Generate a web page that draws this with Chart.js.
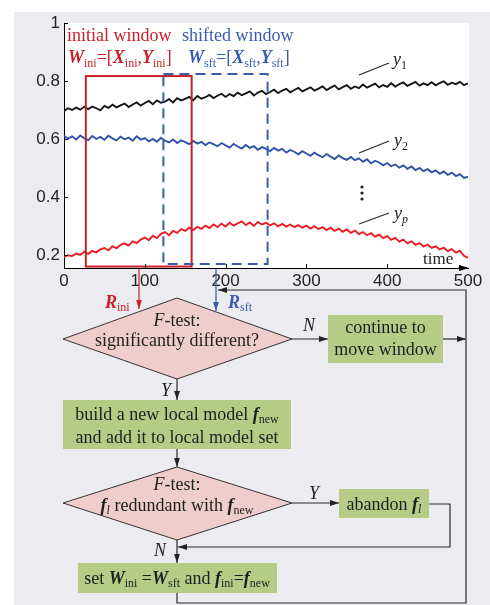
<!DOCTYPE html>
<html>
<head>
<meta charset="utf-8">
<script src="https://cdn.jsdelivr.net/npm/chart.js@4/dist/chart.umd.min.js"></script>
<style>
  html, body { margin:0; padding:0; background:#fff; }
  #wrap { position:relative; width:490px; height:605px; overflow:hidden; }
  #bg { position:absolute; left:14px; top:12px; right:0; bottom:0; background:#ecebf0; }
  #chart { position:absolute; left:0; top:0; }
  #fc { position:absolute; left:0; top:0; font-family:'Liberation Serif','DejaVu Serif',serif; font-size:18px; fill:#1e1e1e; }
  .bi { font-weight:bold; font-style:italic; }
  .it { font-style:italic; }
  .ln { stroke:#2a2a2a; stroke-width:1.2; fill:none; }
</style>
</head>
<body>
<div id="wrap">
  <div id="bg"></div>
  <canvas id="chart" width="490" height="300"></canvas>
  <svg id="fc" width="490" height="605" viewBox="0 0 490 605">
    <defs>
      <marker id="ah" viewBox="0 0 10 10" refX="10" refY="5" markerWidth="9" markerHeight="9" markerUnits="userSpaceOnUse" orient="auto"><path d="M0,1.8 L10,5 L0,8.2z" fill="#222"/></marker>
      <marker id="ahr" viewBox="0 0 10 10" refX="10" refY="5" markerWidth="9" markerHeight="9" markerUnits="userSpaceOnUse" orient="auto"><path d="M0,1.8 L10,5 L0,8.2z" fill="#c8202a"/></marker>
      <marker id="ahb" viewBox="0 0 10 10" refX="10" refY="5" markerWidth="9" markerHeight="9" markerUnits="userSpaceOnUse" orient="auto"><path d="M0,1.8 L10,5 L0,8.2z" fill="#3a5bb0"/></marker>
    </defs>

    <!-- header over the plot -->
    <text x="67" y="41" fill="#c8202a">initial window</text>
    <text x="182" y="41" fill="#3a5bb0">shifted window</text>
    <text x="68" y="63" fill="#c8202a"><tspan class="bi">W</tspan><tspan font-size="12" dy="4">ini</tspan><tspan dy="-4">=[</tspan><tspan class="bi">X</tspan><tspan font-size="12" dy="4">ini</tspan><tspan dy="-4">,</tspan><tspan class="bi">Y</tspan><tspan font-size="12" dy="4">ini</tspan><tspan dy="-4">]</tspan></text>
    <text x="188" y="63" fill="#3a5bb0"><tspan class="bi">W</tspan><tspan font-size="12" dy="4">sft</tspan><tspan dy="-4">=[</tspan><tspan class="bi">X</tspan><tspan font-size="12" dy="4">sft</tspan><tspan dy="-4">,</tspan><tspan class="bi">Y</tspan><tspan font-size="12" dy="4">sft</tspan><tspan dy="-4">]</tspan></text>

    <!-- series labels -->
    <line class="ln" x1="359" y1="75" x2="389" y2="63" stroke-width="1"/>
    <text x="393" y="65"><tspan class="it">y</tspan><tspan font-size="12" dy="4">1</tspan></text>
    <line class="ln" x1="359" y1="153" x2="389" y2="141" stroke-width="1"/>
    <text x="394" y="146"><tspan class="it">y</tspan><tspan font-size="12" dy="4">2</tspan></text>
    <line class="ln" x1="359" y1="224" x2="389" y2="213" stroke-width="1"/>
    <text x="394" y="219"><tspan class="it">y</tspan><tspan font-size="12" dy="4" class="it">p</tspan></text>
    <circle cx="362" cy="187" r="1.6" fill="#222"/>
    <circle cx="362" cy="193" r="1.6" fill="#222"/>
    <circle cx="362" cy="199" r="1.6" fill="#222"/>
    <text x="423" y="264" font-size="17">time</text>

    <!-- residual arrows -->
    <line x1="139" y1="269" x2="139" y2="309" stroke="#c8202a" stroke-width="1.2" marker-end="url(#ahr)"/>
    <text x="105" y="308" fill="#c8202a"><tspan class="bi">R</tspan><tspan font-size="12" dy="3">ini</tspan></text>
    <line x1="216" y1="269" x2="216" y2="311" stroke="#3a5bb0" stroke-width="1.2" marker-end="url(#ahb)"/>
    <text x="228" y="308" fill="#3a5bb0"><tspan class="bi">R</tspan><tspan font-size="12" dy="3">sft</tspan></text>

    <!-- loop back to window shifting -->
    <polyline class="ln" points="177,593 177,603 466,603 466,290 218,290" stroke="#444" stroke-width="1.4" marker-end="url(#ah)"/>

    <!-- decision 1 -->
    <polygon points="177,298 292,339 177,379 63,339" fill="#efcdcd" stroke="#333" stroke-width="1"/>
    <text x="177" y="326" text-anchor="middle"><tspan class="it">F</tspan>-test:</text>
    <text x="177" y="346" text-anchor="middle">significantly different?</text>
    <line class="ln" x1="292" y1="339" x2="328" y2="339" marker-end="url(#ah)"/>
    <text x="303" y="331" class="it">N</text>
    <rect x="328" y="315" width="115" height="48" fill="#b6cc86"/>
    <text x="385.5" y="333" text-anchor="middle">continue to</text>
    <text x="385.5" y="355" text-anchor="middle">move window</text>
    <line class="ln" x1="443" y1="339" x2="466" y2="339" marker-end="url(#ah)"/>

    <line class="ln" x1="177" y1="379" x2="177" y2="400" marker-end="url(#ah)"/>
    <text x="161" y="396" class="it">Y</text>
    <rect x="63" y="400" width="228" height="49" fill="#b6cc86"/>
    <text x="177" y="420" text-anchor="middle">build a new local model <tspan class="bi">f</tspan><tspan font-size="12" dy="3">new</tspan></text>
    <text x="177" y="443" text-anchor="middle">and add it to local model set</text>
    <line class="ln" x1="177" y1="449" x2="177" y2="467" marker-end="url(#ah)"/>

    <!-- decision 2 -->
    <polygon points="177,467 292,503 177,540 63,503" fill="#efcdcd" stroke="#333" stroke-width="1"/>
    <text x="177" y="490" text-anchor="middle"><tspan class="it">F</tspan>-test:</text>
    <text x="177" y="511" text-anchor="middle"><tspan class="bi">f</tspan><tspan font-size="12" dy="3" class="it">l</tspan><tspan dy="-3"> redundant with </tspan><tspan class="bi">f</tspan><tspan font-size="12" dy="3">new</tspan></text>
    <line class="ln" x1="292" y1="503" x2="339" y2="503" marker-end="url(#ah)"/>
    <text x="309" y="499" class="it">Y</text>
    <rect x="339" y="489" width="90" height="29" fill="#b6cc86"/>
    <text x="384" y="510" text-anchor="middle">abandon <tspan class="bi">f</tspan><tspan font-size="12" dy="3" class="it">l</tspan></text>
    <polyline class="ln" points="429,504 450,504 450,547 178,547" marker-end="url(#ah)"/>
    <line class="ln" x1="177" y1="540" x2="177" y2="563" marker-end="url(#ah)"/>
    <text x="154" y="556" class="it">N</text>
    <rect x="78" y="563" width="199" height="30" fill="#b6cc86"/>
    <text x="177" y="584" text-anchor="middle">set <tspan class="bi">W</tspan><tspan font-size="12" dy="3">ini</tspan><tspan dy="-3"> =</tspan><tspan class="bi">W</tspan><tspan font-size="12" dy="3">sft</tspan><tspan dy="-3"> and </tspan><tspan class="bi">f</tspan><tspan font-size="12" dy="3">ini</tspan><tspan dy="-3">=</tspan><tspan class="bi">f</tspan><tspan font-size="12" dy="3">new</tspan></text>
  </svg>
</div>
<script>
'use strict';

// ── Data ─────────────────────────────────────────────────────────────────────
var time = [0,5,10,15,20,25,30,35,40,45,50,55,60,65,70,75,80,85,90,95,100,
  105,110,115,120,125,130,135,140,145,150,155,160,165,170,175,180,185,190,195,200,
  205,210,215,220,225,230,235,240,245,250,255,260,265,270,275,280,285,290,295,300,
  305,310,315,320,325,330,335,340,345,350,355,360,365,370,375,380,385,390,395,400,
  405,410,415,420,425,430,435,440,445,450,455,460,465,470,475,480,485,490,495,500];

var y1 = [.697,.706,.700,.708,.701,.711,.703,.712,.706,.699,.714,.707,.718,.709,.716,.722,.710,.719,.726,.715,.724,
  .731,.720,.733,.725,.729,.737,.726,.741,.733,.738,.745,.734,.748,.739,.744,.752,.741,.749,.756,.745,
  .755,.748,.760,.751,.757,.764,.750,.760,.766,.755,.762,.770,.758,.767,.773,.761,.769,.776,.764,.771,
  .778,.767,.774,.781,.769,.777,.784,.771,.779,.786,.773,.781,.775,.788,.777,.784,.791,.778,.786,.780,
  .792,.781,.789,.795,.783,.790,.797,.784,.792,.786,.796,.785,.793,.799,.787,.794,.789,.797,.786,.792];

var y2 = [.611,.601,.609,.598,.612,.603,.596,.610,.600,.607,.597,.611,.602,.595,.608,.599,.605,.594,.609,.598,.603,
  .592,.600,.590,.604,.594,.588,.598,.586,.595,.589,.582,.593,.584,.590,.579,.588,.582,.575,.586,.578,
  .570,.583,.574,.567,.579,.569,.575,.563,.572,.566,.558,.569,.560,.566,.553,.562,.556,.547,.558,.550,
  .542,.553,.544,.537,.548,.539,.531,.543,.534,.528,.538,.527,.533,.521,.530,.516,.525,.519,.509,.517,
  .506,.512,.501,.509,.497,.505,.493,.500,.489,.496,.485,.492,.480,.488,.476,.484,.472,.479,.466,.470];

var yp = [.193,.199,.196,.205,.200,.211,.204,.214,.209,.219,.224,.216,.230,.223,.235,.240,.232,.247,.241,.253,.260,
  .251,.266,.258,.273,.279,.268,.283,.276,.289,.283,.294,.286,.297,.290,.301,.293,.305,.296,.308,.298,
  .311,.301,.309,.316,.303,.312,.300,.314,.305,.311,.302,.309,.299,.307,.298,.305,.296,.303,.294,.301,
  .291,.299,.289,.296,.286,.294,.283,.291,.280,.288,.276,.284,.272,.279,.268,.275,.263,.270,.258,.265,
  .252,.259,.246,.253,.240,.247,.235,.241,.229,.236,.224,.230,.219,.225,.213,.220,.208,.215,.197,.190];

var xTicks = [0,100,200,300,400,500];
var yTicks = [0.2,0.4,0.6,0.8,1];
var yTickLabels = ['0.2','0.4','0.6','0.8','1'];

// window bounds in data units (time, value)
var iniWindowT = [27,158], iniWindowY = [0.160,0.817];
var sftWindowT = [123,252], sftWindowY = [0.169,0.824];

// ── Plot decorations: white area, windows, inner ticks, axis arrow ───────────
var decor = {
  id: 'decor',
  beforeDraw: function(chart) {
    var a = chart.chartArea, c = chart.ctx;
    c.save(); c.fillStyle = '#fff';
    c.fillRect(a.left, a.top, a.right - a.left + 1, a.bottom - a.top);
    c.restore();
  },
  afterDatasetsDraw: function(chart) {
    var c = chart.ctx, xs = chart.scales.x, ys = chart.scales.y, a = chart.chartArea;
    function box(t, v, col, dash) {
      var x0 = xs.getPixelForValue(t[0]), x1 = xs.getPixelForValue(t[1]);
      var y0 = ys.getPixelForValue(v[1]), y1p = ys.getPixelForValue(v[0]);
      c.save(); c.strokeStyle = col; c.lineWidth = 2; c.setLineDash(dash);
      c.strokeRect(x0, y0, x1 - x0, y1p - y0); c.restore();
    }
    box(iniWindowT, iniWindowY, '#c8202a', []);
    box(sftWindowT, sftWindowY, '#3a5bb0', [10, 6]);

    c.save(); c.strokeStyle = '#000'; c.lineWidth = 1;
    yTicks.forEach(function(v) {
      var y = Math.round(ys.getPixelForValue(v)) + 0.5;
      c.beginPath(); c.moveTo(a.left, y); c.lineTo(a.left + 4, y); c.stroke();
    });
    xTicks.slice(1, -1).forEach(function(v) {
      var x = Math.round(xs.getPixelForValue(v)) + 0.5;
      c.beginPath(); c.moveTo(x, a.bottom); c.lineTo(x, a.bottom - 4); c.stroke();
    });
    // arrow at end of time axis
    c.fillStyle = '#000';
    c.beginPath(); c.moveTo(a.right + 1, a.bottom); c.lineTo(a.right - 9, a.bottom - 3);
    c.lineTo(a.right - 9, a.bottom + 3); c.closePath(); c.fill();
    c.restore();
  }
};

var tickFont = { family: "'Liberation Sans', Arial, sans-serif", size: 17 };

new Chart(document.getElementById('chart'), {
  type: 'line',
  data: {
    labels: time,
    datasets: [
      { data: y1, borderColor: '#161616', borderWidth: 1.9, pointRadius: 0, tension: 0 },
      { data: y2, borderColor: '#2f52a8', borderWidth: 1.9, pointRadius: 0, tension: 0 },
      { data: yp, borderColor: '#ec1c24', borderWidth: 1.9, pointRadius: 0, tension: 0 }
    ]
  },
  plugins: [decor],
  options: {
    responsive: false, animation: false, events: [],
    layout: { padding: { top: 23, right: 22, left: 0, bottom: 0 } },
    plugins: { legend: { display: false }, tooltip: { enabled: false } },
    scales: {
      x: {
        type: 'linear', min: 0, max: 500,
        afterBuildTicks: function(s) { s.ticks = xTicks.map(function(v) { return { value: v }; }); },
        afterFit: function(s) { s.height = 32; },
        ticks: { font: tickFont, color: '#222', padding: 3, maxRotation: 0, autoSkip: false,
                 callback: function(v) { return String(v); } },
        grid: { display: false, drawTicks: false },
        border: { display: true, color: '#000', width: 1 }
      },
      y: {
        type: 'linear', min: 0.155, max: 1,
        afterBuildTicks: function(s) { s.ticks = yTicks.map(function(v) { return { value: v }; }); },
        afterFit: function(s) { s.width = 64; },
        ticks: { font: tickFont, color: '#222', padding: 4, autoSkip: false,
                 callback: function(v) { var i = yTicks.indexOf(v); return i >= 0 ? yTickLabels[i] : ''; } },
        grid: { display: false, drawTicks: false },
        border: { display: true, color: '#000', width: 1 }
      }
    }
  }
});
</script>
</body>
</html>
